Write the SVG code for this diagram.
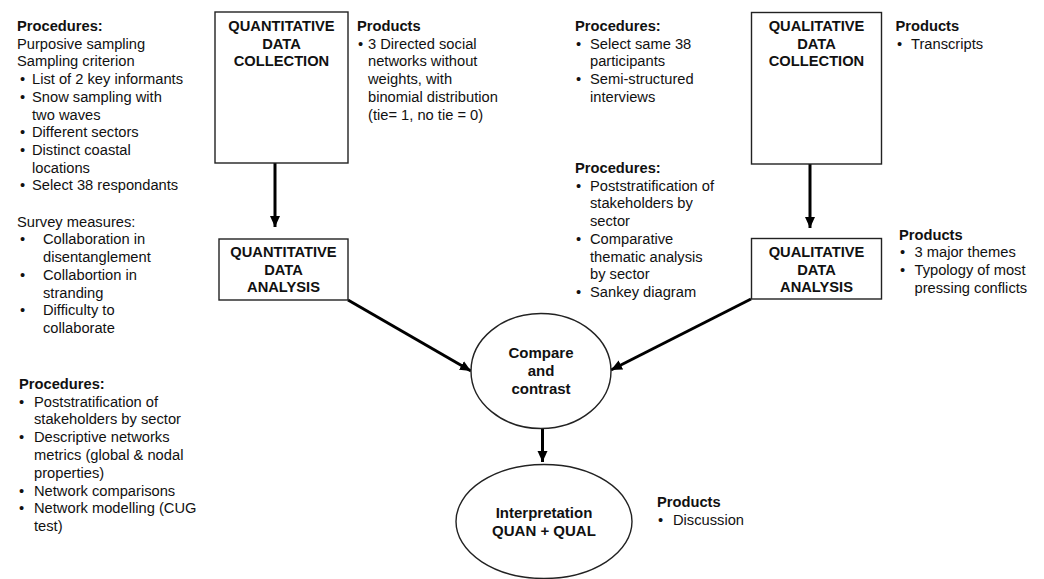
<svg xmlns="http://www.w3.org/2000/svg" width="1044" height="579" viewBox="0 0 1044 579">
<style>
text{font-family:"Liberation Sans",Arial,sans-serif;font-size:14.7px;fill:#111}
.b{font-weight:bold}
.c{text-anchor:middle}
.e{font-size:15px}
.box{fill:#fff;stroke:#222;stroke-width:1.4}
.conn{stroke:#000;stroke-width:3;fill:none}
</style>
<defs>
<marker id="ah" markerUnits="userSpaceOnUse" markerWidth="12" markerHeight="12" viewBox="0 0 12 12" refX="11" refY="6" orient="auto">
<path d="M0,1 L11,6 L0,11 Z" fill="#000"/>
</marker>
</defs>
<g id="connectors">
<line class="conn" x1="275" y1="163" x2="275" y2="227" marker-end="url(#ah)"/>
<line class="conn" x1="810" y1="164" x2="810" y2="228" marker-end="url(#ah)"/>
<line class="conn" x1="348" y1="300" x2="471" y2="371" marker-end="url(#ah)"/>
<line class="conn" x1="751" y1="299" x2="611" y2="370" marker-end="url(#ah)"/>
<line class="conn" x1="542.5" y1="428" x2="542.5" y2="462" marker-end="url(#ah)"/>
</g>
<g id="quan-collection">
<rect class="box" x="215" y="12" width="133" height="151"/>
<text class="b c" x="281.5" y="31">QUANTITATIVE<tspan x="281.5" dy="17.7">DATA</tspan><tspan x="281.5" dy="17.7">COLLECTION</tspan></text>
</g>
<g id="quan-analysis">
<rect class="box" x="219" y="239" width="129" height="61"/>
<text class="b c" x="283.5" y="257">QUANTITATIVE<tspan x="283.5" dy="17.5">DATA</tspan><tspan x="283.5" dy="17.5">ANALYSIS</tspan></text>
</g>
<g id="qual-collection">
<rect class="box" x="751.5" y="12.5" width="130" height="151.5"/>
<text class="b c" x="816.5" y="31">QUALITATIVE<tspan x="816.5" dy="17.5">DATA</tspan><tspan x="816.5" dy="17.5">COLLECTION</tspan></text>
</g>
<g id="qual-analysis">
<rect class="box" x="751.5" y="238.5" width="130" height="60.5"/>
<text class="b c" x="816.5" y="257">QUALITATIVE<tspan x="816.5" dy="17.5">DATA</tspan><tspan x="816.5" dy="17.5">ANALYSIS</tspan></text>
</g>
<g id="compare">
<ellipse class="box" cx="541" cy="371" rx="70" ry="57.5"/>
<text class="b c e" x="541" y="358">Compare<tspan x="541" dy="18">and</tspan><tspan x="541" dy="18">contrast</tspan></text>
</g>
<g id="interpretation">
<ellipse class="box" cx="544" cy="521.5" rx="88" ry="57"/>
<text class="b c e" x="544" y="518">Interpretation<tspan x="544" dy="18">QUAN + QUAL</tspan></text>
</g>
<g id="left-procedures">
<text class="b" x="17" y="31">Procedures:</text>
<text x="17" y="48.7">Purposive sampling</text>
<text x="17" y="66.4">Sampling criterion</text>
<text x="20" y="84.1">•</text><text x="32" y="84.1">List of 2 key informants</text>
<text x="20" y="101.8">•</text><text x="32" y="101.8">Snow sampling with</text>
<text x="32" y="119.5">two waves</text>
<text x="20" y="137.2">•</text><text x="32" y="137.2">Different sectors</text>
<text x="20" y="154.9">•</text><text x="32" y="154.9">Distinct coastal</text>
<text x="32" y="172.6">locations</text>
<text x="20" y="190.3">•</text><text x="32" y="190.3">Select 38 respondants</text>
<text x="17" y="226.7">Survey measures:</text>
<text x="20" y="244.4">•</text><text x="43" y="244.4">Collaboration in</text>
<text x="43" y="262.1">disentanglement</text>
<text x="20" y="279.8">•</text><text x="43" y="279.8">Collabortion in</text>
<text x="43" y="297.5">stranding</text>
<text x="20" y="315.2">•</text><text x="43" y="315.2">Difficulty to</text>
<text x="43" y="332.9">collaborate</text>
</g>
<g id="quan-products">
<text class="b" x="357" y="31">Products</text>
<text x="358" y="48.7">•</text><text x="368" y="48.7">3 Directed social</text>
<text x="368" y="66.4">networks without</text>
<text x="368" y="84.1">weights, with</text>
<text x="368" y="101.8">binomial distribution</text>
<text x="368" y="119.5">(tie= 1, no tie = 0)</text>
</g>
<g id="quan-procedures">
<text class="b" x="19" y="388.5">Procedures:</text>
<text x="19" y="406.5">•</text><text x="34" y="406.5">Poststratification of</text>
<text x="34" y="424.3">stakeholders by sector</text>
<text x="19" y="442.1">•</text><text x="34" y="442.1">Descriptive networks</text>
<text x="34" y="459.9">metrics (global &amp; nodal</text>
<text x="34" y="477.7">properties)</text>
<text x="19" y="495.5">•</text><text x="34" y="495.5">Network comparisons</text>
<text x="19" y="513.3">•</text><text x="34" y="513.3">Network modelling (CUG</text>
<text x="34" y="531.1">test)</text>
</g>
<g id="qual-procedures">
<text class="b" x="575" y="31">Procedures:</text>
<text x="576" y="48.5">•</text><text x="590" y="48.5">Select same 38</text>
<text x="590" y="66.2">participants</text>
<text x="576" y="83.9">•</text><text x="590" y="83.9">Semi-structured</text>
<text x="590" y="101.6">interviews</text>
</g>
<g id="qual-analysis-procedures">
<text class="b" x="575" y="173">Procedures:</text>
<text x="576" y="190.7">•</text><text x="590" y="190.7">Poststratification of</text>
<text x="590" y="208.4">stakeholders by</text>
<text x="590" y="226.1">sector</text>
<text x="576" y="243.8">•</text><text x="590" y="243.8">Comparative</text>
<text x="590" y="261.5">thematic analysis</text>
<text x="590" y="279.2">by sector</text>
<text x="576" y="296.9">•</text><text x="590" y="296.9">Sankey diagram</text>
</g>
<g id="qual-products">
<text class="b" x="895.5" y="31">Products</text>
<text x="897" y="48.5">•</text><text x="911" y="48.5">Transcripts</text>
</g>
<g id="qual-analysis-products">
<text class="b" x="899" y="239.5">Products</text>
<text x="900" y="257.2">•</text><text x="914.5" y="257.2">3 major themes</text>
<text x="900" y="274.9">•</text><text x="914.5" y="274.9">Typology of most</text>
<text x="914.5" y="292.6">pressing conflicts</text>
</g>
<g id="final-products">
<text class="b" x="657" y="507">Products</text>
<text x="658" y="525.3">•</text><text x="673" y="525.3">Discussion</text>
</g>
</svg>
